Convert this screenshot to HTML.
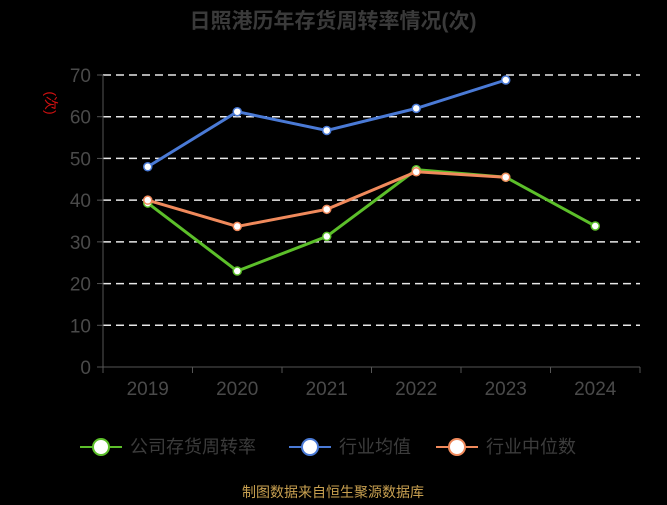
<!DOCTYPE html>
<html><head><meta charset="utf-8"><style>
body{margin:0;background:#000;width:667px;height:500px;overflow:hidden;font-family:"Liberation Sans","Noto Sans CJK SC",sans-serif}
svg text{font-family:"Liberation Sans","Noto Sans CJK SC",sans-serif}
</style></head><body>
<svg id="chart" width="667" height="500" xmlns="http://www.w3.org/2000/svg">
<text x="333" y="28" text-anchor="middle" font-size="21" font-weight="bold" fill="#3a3a3a">日照港历年存货周转率情况(次)</text>
<text x="0" y="0" transform="translate(46,103) rotate(90)" text-anchor="middle" font-size="14" fill="#d01010">(次)</text>
<g id="grid"></g><g id="axes"></g><g id="series"></g>
<g font-size="18" fill="#3c3c3c">
<g><line x1="80" y1="447" x2="122" y2="447" stroke="#5cbf2a" stroke-width="2"/><circle cx="101" cy="447" r="8" fill="#fff" stroke="#5cbf2a" stroke-width="2"/><text x="130" y="453">公司存货周转率</text></g>
<g><line x1="289" y1="447" x2="331" y2="447" stroke="#4a7ad6" stroke-width="2"/><circle cx="310" cy="447" r="8" fill="#fff" stroke="#4a7ad6" stroke-width="2"/><text x="339" y="453">行业均值</text></g>
<g><line x1="436" y1="447" x2="478" y2="447" stroke="#f08a5c" stroke-width="2"/><circle cx="457" cy="447" r="8" fill="#fff" stroke="#f08a5c" stroke-width="2"/><text x="486" y="453">行业中位数</text></g>
</g>
<text x="333" y="497" text-anchor="middle" font-size="14" fill="#c8a050">制图数据来自恒生聚源数据库</text>
</svg>
<script>
const categories=["2019","2020","2021","2022","2023","2024"];
const companyValues=[39.3,23.0,31.3,47.3,45.5,33.8];
const industryAvgValues=[48.0,61.2,56.7,62.0,68.8,null];
const industryMedianValues=[40.0,33.7,37.8,46.8,45.5,null];
const yTicks=[0,10,20,30,40,50,60,70];
const NS="http://www.w3.org/2000/svg";
const x0=103,x1=640,yTop=75,yBot=367,yMax=70;
const band=(x1-x0)/categories.length;
function xs(i){return x0+band*(i+0.5);}
function ys(v){return yBot-(v/yMax)*(yBot-yTop);}
function mk(tag,attrs,parent){const e=document.createElementNS(NS,tag);for(const k in attrs)e.setAttribute(k,attrs[k]);parent.appendChild(e);return e;}
const grid=document.getElementById('grid'),axes=document.getElementById('axes'),series=document.getElementById('series');
yTicks.forEach(t=>{
  const y=ys(t);
  if(t>0){const l=mk('line',{x1:x0,x2:x1,y1:y,y2:y,stroke:'#e8e8e8','stroke-width':1.5,'stroke-dasharray':'8,5'},grid);
  
  }
  const tk=mk('line',{x1:x0-6,x2:x0,y1:y,y2:y,stroke:'#555'},axes);
  
  
  const tx=mk('text',{x:x0-12,y:y+7,'text-anchor':'end','font-size':19,fill:'#4a4a4a'},axes);
  tx.textContent=t;
  
  
});
const ya=mk('line',{x1:x0,x2:x0,y1:yTop,y2:yBot,stroke:'#555'},axes);


const xa=mk('line',{x1:x0,x2:x1,y1:yBot,y2:yBot,stroke:'#555'},axes);


categories.forEach((c,i)=>{
  for(const xx of [x0+band*i, x0+band*(i+1)]){const tk=mk('line',{x1:xx,x2:xx,y1:yBot,y2:yBot+6,stroke:'#555'},axes);
  
  }
  const tx=mk('text',{x:xs(i),y:yBot+28,'text-anchor':'middle','font-size':19,fill:'#4a4a4a'},axes);
  tx.textContent=c;
  
  
});
function drawSeries(vals,color,name){
  const g=mk('g',{},series);
  
  
  const pts=[];vals.forEach((v,i)=>{if(v!=null)pts.push([xs(i),ys(v)]);});
  const p=mk('polyline',{points:pts.map(p=>p.join(',')).join(' '),fill:'none',stroke:color,'stroke-width':3},g);
  
  
  vals.forEach((v,i)=>{if(v==null)return;
    const c=mk('circle',{cx:xs(i),cy:ys(v),r:4,fill:'#fff',stroke:color,'stroke-width':1.5},g);
    
    });
}
drawSeries(industryAvgValues,'#4a7ad6','industry-avg');
drawSeries(companyValues,'#5cbf2a','company');
drawSeries(industryMedianValues,'#f08a5c','industry-median');
</script>
</body></html>
